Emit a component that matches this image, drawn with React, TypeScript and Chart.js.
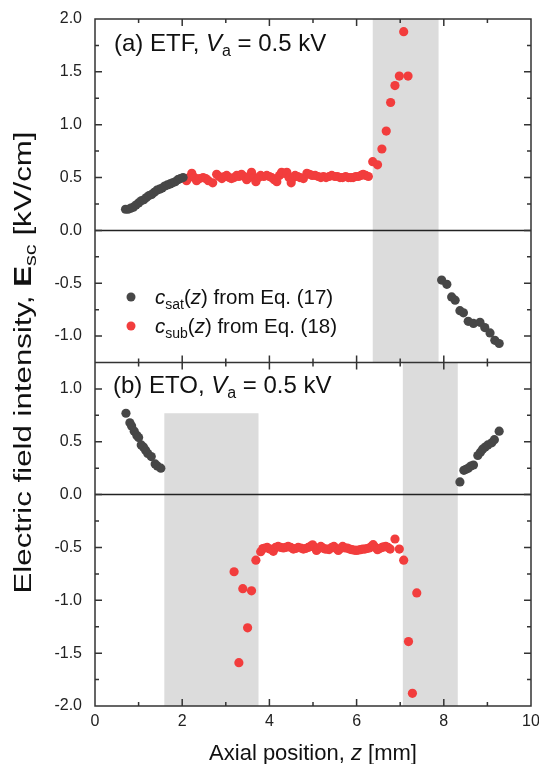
import React, { useEffect, useRef } from "react";
import { Chart, registerables } from "chart.js";

Chart.register(...registerables);

const W = 539;
const H = 764;
const FONT = "'Liberation Sans', Arial, sans-serif";

// ---------- Panel (a) ETF ----------
const aSatZ = [
  0.70, 0.76, 0.82, 0.88, 0.94, 1.00, 1.06, 1.12, 1.18, 1.24, 1.30, 1.36, 1.42, 1.48, 1.54, 1.60, 1.66, 1.72, 1.78, 1.84, 1.90, 1.96, 2.02,
  7.95, 8.07, 8.18, 8.26, 8.37, 8.45, 8.56, 8.68, 8.83, 8.94, 9.06, 9.17, 9.27,
];
const aSatE = [
  0.20, 0.20, 0.21, 0.22, 0.24, 0.26, 0.28, 0.29, 0.31, 0.33, 0.34, 0.36, 0.38, 0.39, 0.40, 0.42, 0.43, 0.44, 0.45, 0.46, 0.48, 0.49, 0.50,
  -0.47, -0.51, -0.63, -0.66, -0.76, -0.78, -0.86, -0.88, -0.87, -0.92, -0.97, -1.04, -1.07,
];
const aSubZ = [
  2.10, 2.16, 2.22, 2.28, 2.33, 2.40, 2.48, 2.54, 2.60, 2.70, 2.79, 2.85, 2.91, 2.97, 3.02, 3.08, 3.13, 3.19, 3.25, 3.30,
  3.36, 3.42, 3.48, 3.54, 3.59, 3.65, 3.69, 3.75, 3.80, 3.87, 3.94, 4.00, 4.05, 4.11, 4.17, 4.23, 4.28, 4.34, 4.40, 4.45,
  4.50, 4.55, 4.59, 4.65, 4.70, 4.78, 4.86, 4.92, 4.98, 5.05, 5.12, 5.18, 5.24, 5.30, 5.37, 5.43, 5.50, 5.56, 5.62, 5.68,
  5.75, 5.81, 5.87, 5.92, 5.98, 6.04, 6.10, 6.15, 6.21, 6.27,
  6.37, 6.48, 6.58, 6.68, 6.78, 6.88, 6.98, 7.08, 7.18,
];
const aSubE = [
  0.47, 0.50, 0.54, 0.50, 0.47, 0.49, 0.50, 0.49, 0.47, 0.45, 0.53, 0.51, 0.49, 0.51, 0.52, 0.50, 0.49, 0.50, 0.52, 0.51,
  0.53, 0.51, 0.48, 0.50, 0.55, 0.50, 0.46, 0.50, 0.52, 0.51, 0.52, 0.51, 0.50, 0.48, 0.46, 0.52, 0.55, 0.54, 0.55, 0.50,
  0.45, 0.50, 0.52, 0.51, 0.50, 0.49, 0.54, 0.53, 0.52, 0.52, 0.51, 0.50, 0.51, 0.50, 0.51, 0.52, 0.51, 0.51, 0.50, 0.50,
  0.51, 0.50, 0.50, 0.50, 0.51, 0.51, 0.52, 0.53, 0.52, 0.51,
  0.65, 0.62, 0.77, 0.94, 1.21, 1.37, 1.46, 1.88, 1.46,
];

// ---------- Panel (b) ETO ----------
const bSatZ = [
  0.71, 0.80, 0.84, 0.90, 0.96, 1.00, 1.06, 1.11, 1.16, 1.21, 1.29, 1.38, 1.43, 1.51,
  8.37, 8.46, 8.51, 8.56, 8.62, 8.68, 8.78, 8.84, 8.89, 8.95, 9.01, 9.10, 9.16, 9.27,
];
const bSatE = [
  0.77, 0.68, 0.65, 0.60, 0.56, 0.54, 0.47, 0.45, 0.42, 0.39, 0.36, 0.29, 0.27, 0.25,
  0.12, 0.23, 0.24, 0.25, 0.27, 0.28, 0.37, 0.40, 0.43, 0.45, 0.47, 0.49, 0.52, 0.60,
];
const bSubZ = [
  3.19, 3.30, 3.39, 3.50, 3.59, 3.69, 3.80,
  3.85, 3.90, 3.95, 4.01, 4.09, 4.14, 4.20, 4.26, 4.32, 4.37, 4.43, 4.49, 4.55, 4.60, 4.66, 4.72, 4.78, 4.83, 4.89, 4.94,
  4.99, 5.04, 5.08, 5.13, 5.18, 5.23, 5.28, 5.33, 5.37, 5.43, 5.48, 5.53, 5.58, 5.63, 5.68, 5.74, 5.79, 5.84, 5.89, 5.94,
  5.99, 6.04, 6.09, 6.14, 6.19, 6.24, 6.29, 6.34, 6.38, 6.43, 6.48, 6.53, 6.58, 6.62, 6.67, 6.72, 6.77,
  6.88, 6.98, 7.08, 7.19, 7.28, 7.38,
];
const bSubE = [
  -0.73, -1.59, -0.89, -1.26, -0.91, -0.62, -0.54,
  -0.51, -0.505, -0.50, -0.515, -0.537, -0.50, -0.49, -0.50, -0.505, -0.50, -0.49, -0.50, -0.515, -0.51, -0.50, -0.505, -0.515, -0.51, -0.50, -0.49,
  -0.475, -0.50, -0.528, -0.51, -0.49, -0.505, -0.515, -0.515, -0.52, -0.50, -0.49, -0.51, -0.528, -0.51, -0.49, -0.505, -0.505, -0.515, -0.521, -0.525,
  -0.528, -0.525, -0.521, -0.515, -0.515, -0.51, -0.505, -0.49, -0.474, -0.50, -0.521, -0.51, -0.50, -0.495, -0.49, -0.50, -0.515,
  -0.42, -0.515, -0.62, -1.39, -1.88, -0.93,
];

// ---------- shaded regions ----------
const aShadeFrom = [6.37];
const aShadeTo = [7.88];
const aShadeTop = [2.0];
const aShadeBottom = [-1.25];
const bShadeFrom = [1.59, 7.06];
const bShadeTo = [3.75, 8.32];
const bShadeTop = [0.77, 1.25];
const bShadeBottom = [-2.0, -2.0];

// ---------- axes ----------
const xMin = 0;
const xMax = 10;
const xTicks = [0, 2, 4, 6, 8, 10];
const xMinorTicks = [1, 3, 5, 7, 9];
const aMin = -1.25;
const aMax = 2.0;
const aTicks = [-1.0, -0.5, 0.0, 0.5, 1.0, 1.5, 2.0];
const bMin = -2.0;
const bMax = 1.25;
const bTicks = [-2.0, -1.5, -1.0, -0.5, 0.0, 0.5, 1.0];

const SAT_COLOR = "#474747";
const SUB_COLOR = "#f23d3d";

type Seg = { t: string; i?: boolean; b?: boolean; sub?: boolean };

function segFont(s: Seg, size: number) {
  const sz = s.sub ? Math.round(size * 0.68) : size;
  return `${s.i ? "italic " : ""}${s.b ? "bold " : ""}${sz}px ${FONT}`;
}
function richWidth(ctx: CanvasRenderingContext2D, segs: Seg[], size: number) {
  let w = 0;
  for (const s of segs) {
    ctx.font = segFont(s, size);
    w += ctx.measureText(s.t).width;
  }
  return w;
}
function drawRich(ctx: CanvasRenderingContext2D, x: number, y: number, segs: Seg[], size: number) {
  ctx.textAlign = "left";
  ctx.textBaseline = "alphabetic";
  let cx = x;
  for (const s of segs) {
    ctx.font = segFont(s, size);
    ctx.fillText(s.t, cx, y + (s.sub ? size * 0.22 : 0));
    cx += ctx.measureText(s.t).width;
  }
}

const pts = (xs: number[], ys: number[]) => xs.map((x, i) => ({ x, y: ys[i] }));

const decor = {
  id: "decor",
  beforeDatasetsDraw(chart: any) {
    const ctx: CanvasRenderingContext2D = chart.ctx;
    const x = chart.scales.x;
    const yA = chart.scales.yA;
    const yB = chart.scales.yB;
    ctx.save();
    ctx.fillStyle = "#dcdcdc";
    aShadeFrom.forEach((f, i) => {
      const x0 = x.getPixelForValue(f);
      const x1 = x.getPixelForValue(aShadeTo[i]);
      const y0 = yA.getPixelForValue(aShadeTop[i]);
      const y1 = yA.getPixelForValue(aShadeBottom[i]);
      ctx.fillRect(x0, y0, x1 - x0, y1 - y0);
    });
    bShadeFrom.forEach((f, i) => {
      const x0 = x.getPixelForValue(f);
      const x1 = x.getPixelForValue(bShadeTo[i]);
      const y0 = yB.getPixelForValue(bShadeTop[i]);
      const y1 = yB.getPixelForValue(bShadeBottom[i]);
      ctx.fillRect(x0, y0, x1 - x0, y1 - y0);
    });
    // zero lines
    ctx.strokeStyle = "#222";
    ctx.lineWidth = 1.5;
    for (const ys of [yA, yB]) {
      const yz = ys.getPixelForValue(0);
      ctx.beginPath();
      ctx.moveTo(x.left, yz);
      ctx.lineTo(x.right, yz);
      ctx.stroke();
    }
    ctx.restore();
  },
  afterDatasetsDraw(chart: any) {
    const ctx: CanvasRenderingContext2D = chart.ctx;
    const x = chart.scales.x;
    const yA = chart.scales.yA;
    const yB = chart.scales.yB;
    const L = x.left;
    const R = x.right;
    ctx.save();
    ctx.strokeStyle = "#333";
    ctx.lineWidth = 1.5;
    // frame
    ctx.beginPath();
    ctx.rect(L, yA.top, R - L, yB.bottom - yA.top);
    ctx.moveTo(L, yA.bottom);
    ctx.lineTo(R, yA.bottom);
    ctx.stroke();
    // x ticks (inward) on each horizontal border
    const hBorders: [number, number][] = [
      [yA.top, 1],
      [yA.bottom, -1],
      [yB.top, 1],
      [yB.bottom, -1],
    ];
    ctx.beginPath();
    for (const [yy, dir] of hBorders) {
      for (const v of xTicks) {
        if (v === xMin || v === xMax) continue;
        const px = x.getPixelForValue(v);
        ctx.moveTo(px, yy);
        ctx.lineTo(px, yy + dir * 7);
      }
      for (const v of xMinorTicks) {
        const px = x.getPixelForValue(v);
        ctx.moveTo(px, yy);
        ctx.lineTo(px, yy + dir * 4);
      }
    }
    // y ticks (inward) left and right
    const yAxes: [any, number[], number, number][] = [
      [yA, aTicks, aMin, aMax],
      [yB, bTicks, bMin, bMax],
    ];
    for (const [sc, ticks, mn, mx] of yAxes) {
      for (const v of ticks) {
        if (v <= mn || v >= mx) continue;
        const py = sc.getPixelForValue(v);
        ctx.moveTo(L, py);
        ctx.lineTo(L + 7, py);
        ctx.moveTo(R, py);
        ctx.lineTo(R - 7, py);
      }
      for (const v of ticks) {
        const mv = v + 0.25;
        if (mv <= mn || mv >= mx) continue;
        const py = sc.getPixelForValue(mv);
        ctx.moveTo(L, py);
        ctx.lineTo(L + 4, py);
        ctx.moveTo(R, py);
        ctx.lineTo(R - 4, py);
      }
      const lowMinor = ticks[0] - 0.25;
      if (lowMinor > mn) {
        const py = sc.getPixelForValue(lowMinor);
        ctx.moveTo(L, py);
        ctx.lineTo(L + 4, py);
        ctx.moveTo(R, py);
        ctx.lineTo(R - 4, py);
      }
    }
    ctx.stroke();

    // panel labels
    ctx.fillStyle = "#111";
    drawRich(ctx, L + 19, yA.top + 32, [
      { t: "(a) ETF, " },
      { t: "V", i: true },
      { t: "a", sub: true },
      { t: " = 0.5 kV" },
    ], 24);
    drawRich(ctx, L + 18, yB.top + 30, [
      { t: "(b) ETO, " },
      { t: "V", i: true },
      { t: "a", sub: true },
      { t: " = 0.5 kV" },
    ], 24);

    // legend
    const legY1 = yA.top + 278;
    const legY2 = yA.top + 307;
    ctx.fillStyle = SAT_COLOR;
    ctx.beginPath();
    ctx.arc(L + 36, legY1, 4.5, 0, Math.PI * 2);
    ctx.fill();
    ctx.fillStyle = SUB_COLOR;
    ctx.beginPath();
    ctx.arc(L + 36, legY2, 4.5, 0, Math.PI * 2);
    ctx.fill();
    ctx.fillStyle = "#111";
    drawRich(ctx, L + 60, legY1 + 7, [
      { t: "c", i: true },
      { t: "sat", sub: true },
      { t: "(" },
      { t: "z", i: true },
      { t: ") from Eq. (17)" },
    ], 20.5);
    drawRich(ctx, L + 60, legY2 + 7, [
      { t: "c", i: true },
      { t: "sub", sub: true },
      { t: "(" },
      { t: "z", i: true },
      { t: ") from Eq. (18)" },
    ], 20.5);

    // x title
    const xt: Seg[] = [{ t: "Axial position, " }, { t: "z", i: true }, { t: " [mm]" }];
    const xw = richWidth(ctx, xt, 22);
    drawRich(ctx, (L + R) / 2 - xw / 2, 760, xt, 22);

    // y title
    const yt: Seg[] = [
      { t: "Electric field intensity, " },
      { t: "E", b: true },
      { t: "sc", sub: true },
      { t: " [kV/cm]" },
    ];
    const yw = richWidth(ctx, yt, 23);
    const stretch = 462 / yw;
    const cy = (yA.top + yB.bottom) / 2;
    ctx.translate(31, cy);
    ctx.rotate(-Math.PI / 2);
    ctx.scale(stretch, 1);
    drawRich(ctx, -yw / 2, 0, yt, 23);
    ctx.restore();
  },
};

export default function App() {
  const ref = useRef<HTMLCanvasElement>(null);
  useEffect(() => {
    const tickFont = { family: FONT, size: 16 };
    const yCommon = (mn: number, mx: number, ticks: number[]) => ({
      type: "linear" as const,
      position: "left" as const,
      stack: "panels",
      stackWeight: 1,
      min: mn,
      max: mx,
      grid: { display: false, drawTicks: false },
      border: { display: false },
      ticks: {
        font: tickFont,
        color: "#222",
        padding: 13,
        callback: (v: any) => Number(v).toFixed(1),
      },
      afterBuildTicks: (s: any) => {
        s.ticks = ticks.map((v) => ({ value: v }));
      },
      afterFit: (s: any) => {
        s.width = 95;
        s.paddingTop = 0;
        s.paddingBottom = 0;
      },
    });
    const chart = new Chart(ref.current as HTMLCanvasElement, {
      type: "scatter",
      data: {
        datasets: [
          {
            label: "a-sat",
            data: pts(aSatZ, aSatE),
            yAxisID: "yA",
            backgroundColor: SAT_COLOR,
            borderWidth: 0,
            pointRadius: 4.6,
          },
          {
            label: "a-sub",
            data: pts(aSubZ, aSubE),
            yAxisID: "yA",
            backgroundColor: SUB_COLOR,
            borderWidth: 0,
            pointRadius: 4.6,
          },
          {
            label: "b-sat",
            data: pts(bSatZ, bSatE),
            yAxisID: "yB",
            backgroundColor: SAT_COLOR,
            borderWidth: 0,
            pointRadius: 4.6,
          },
          {
            label: "b-sub",
            data: pts(bSubZ, bSubE),
            yAxisID: "yB",
            backgroundColor: SUB_COLOR,
            borderWidth: 0,
            pointRadius: 4.6,
          },
        ],
      },
      options: {
        responsive: false,
        animation: false,
        devicePixelRatio: 1,
        layout: { padding: { top: 19, right: 8, left: 0, bottom: 0 } },
        plugins: { legend: { display: false }, tooltip: { enabled: false } },
        scales: {
          x: {
            type: "linear",
            position: "bottom",
            min: xMin,
            max: xMax,
            grid: { display: false, drawTicks: false },
            border: { display: false },
            ticks: { font: tickFont, color: "#222", padding: 6, callback: (v: any) => String(v) },
            afterBuildTicks: (s: any) => {
              s.ticks = xTicks.map((v) => ({ value: v }));
            },
            afterFit: (s: any) => {
              s.height = 58;
              s.paddingLeft = 0;
              s.paddingRight = 0;
            },
          },
          yB: yCommon(bMin, bMax, bTicks),
          yA: yCommon(aMin, aMax, aTicks),
        } as any,
      },
      plugins: [decor],
    });
    return () => chart.destroy();
  }, []);
  return (
    <div style={{ position: "fixed", left: 0, top: 0, width: W, height: H, background: "#fff" }}>
      <canvas ref={ref} width={W} height={H} style={{ display: "block", width: W, height: H }} />
    </div>
  );
}
